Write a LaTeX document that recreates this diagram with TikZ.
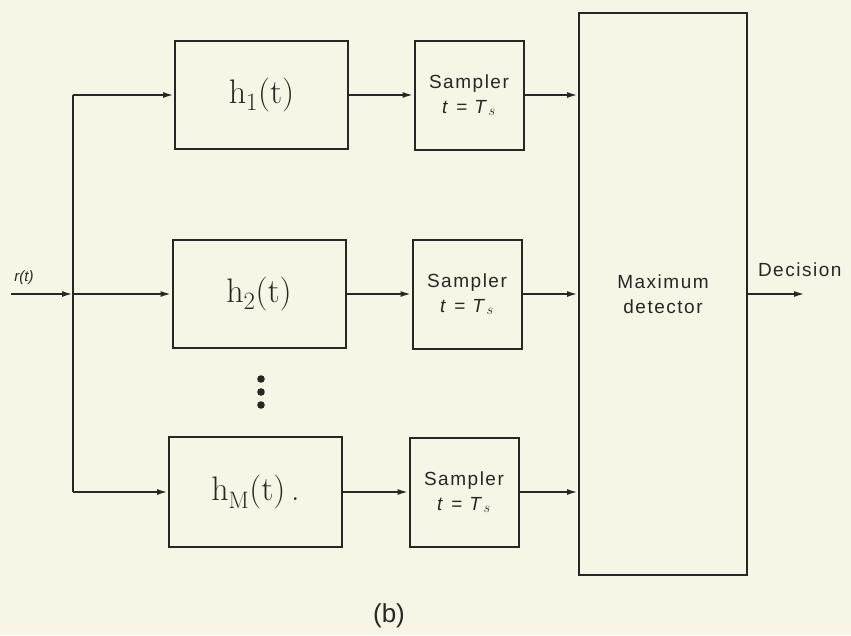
\documentclass[tikz,border=0pt]{standalone}
\usepackage{fontspec}
\newfontfamily\labsans[LetterSpace=8]{Liberation Sans}
\newfontfamily\plainsans{Liberation Sans}
\usetikzlibrary{arrows.meta}
\definecolor{paper}{HTML}{F6F5E6}
\definecolor{ink}{HTML}{2A2623}
\begin{document}
\begin{tikzpicture}[x=1pt,y=-1pt,
  line width=2pt, draw=ink,
  blk/.style={draw=ink, line width=2pt, inner sep=0pt, align=center, text=ink},
  filt/.style={blk, minimum width=173pt, minimum height=108pt, font=\fontsize{34}{36}\selectfont},
  samp/.style={blk, minimum width=109pt, minimum height=109pt, font=\labsans\fontsize{19}{25}\selectfont},
  sig/.style={draw=ink, line width=2pt, -{Latex[length=11pt,width=6pt]}},
  lbl/.style={text=ink, inner sep=0pt}
]
\fill[paper] (0,0) rectangle (851,635);
\useasboundingbox (0,0) rectangle (851,635);

\node[filt] (h1) at (261.5,95) {h$_1$(t)};
\node[filt] (h2) at (259,294) {h$_2$(t)};
\node[filt, minimum height=110pt] (hM) at (255.5,492) {h$_{\mathrm{M}}$(t)\,.};

\node[samp] (s1) at (469,95) {Sampler\\\textit{t} = \textit{T}$_s$};
\node[samp] (s2) at (467,294) {Sampler\\\textit{t} = \textit{T}$_s$};
\node[samp] (s3) at (464,492) {Sampler\\\textit{t} = \textit{T}$_s$};

\node[blk, minimum width=168pt, minimum height=562pt, font=\labsans\fontsize{19}{25}\selectfont] (md) at (663,294) {Maximum\\detector};

\coordinate (in) at (11,294);
\coordinate (j) at (73,294);
\coordinate (jt) at (73,95);
\coordinate (jb) at (73,492);
\coordinate (out) at (805,294);

\node[lbl, font=\plainsans\itshape\fontsize{15}{16}\selectfont] (rl) at (24,278) {r(t)};
\node[lbl, anchor=west, font=\labsans\fontsize{19}{21}\selectfont] (dec) at (757,270) {Decision};

\draw[sig] (in) -- (j);
\draw[sig] (j) -- (h2.west);
\draw[sig] (jt) -- (h1.west);
\draw[sig] (jb) -- (hM.west);
\draw (jt) -- (jb);

\draw[sig] (h1.east) -- (s1.west);
\draw[sig] (h2.east) -- (s2.west);
\draw[sig] (hM.east) -- (s3.west);

\draw[sig] (s1.east) -- (s1.east -| md.west);
\draw[sig] (s2.east) -- (s2.east -| md.west);
\draw[sig] (s3.east) -- (s3.east -| md.west);

\draw[sig] (md.east |- out) -- (out);

\foreach \yy in {379,392,405} \fill[ink] (261,\yy) circle (3.8pt);

\node[lbl, font=\plainsans\fontsize{26}{28}\selectfont] (cap) at (389,616) {(b)};
\end{tikzpicture}
\end{document}
